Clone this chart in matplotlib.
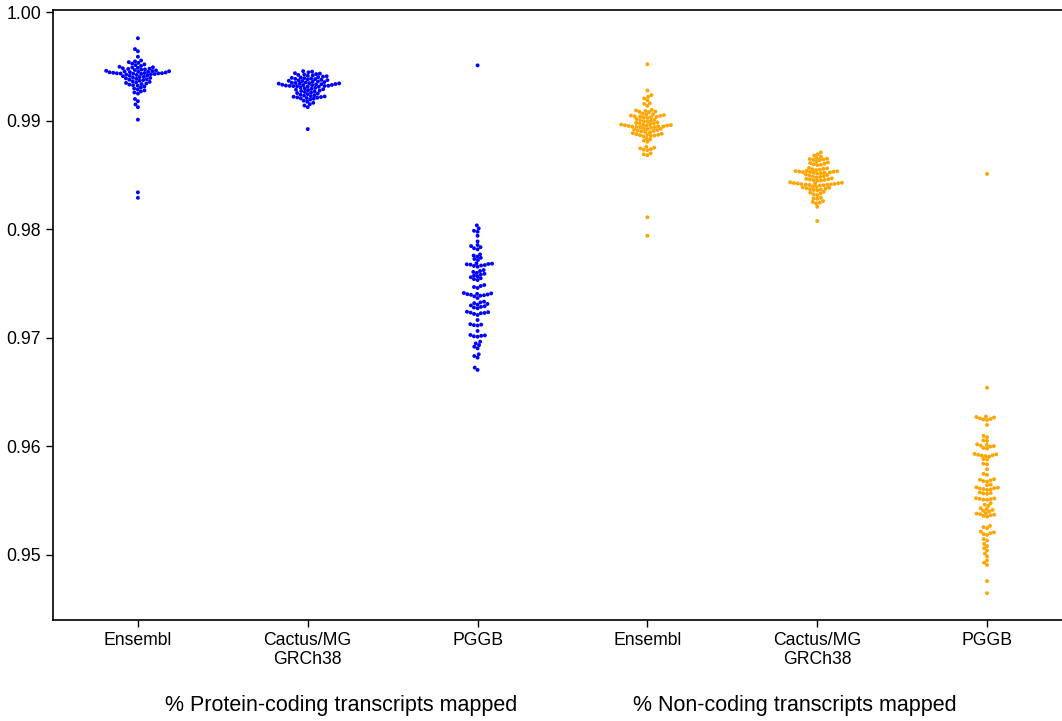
import numpy as np
import pandas as pd
import matplotlib
matplotlib.use("Agg")
from matplotlib import pyplot as plt
import seaborn as sns

plt.rcParams["font.family"] = ["Liberation Sans", "DejaVu Sans"]

categories = ["Ensembl", "Cactus/MG\nGRCh38", "PGGB",
              "Ensembl ", "Cactus/MG \nGRCh38", "PGGB "]
tick_labels = ["Ensembl", "Cactus/MG\nGRCh38", "PGGB",
               "Ensembl", "Cactus/MG\nGRCh38", "PGGB"]
group_labels = ["% Protein-coding transcripts mapped", "% Non-coding transcripts mapped"]

pc_ensembl = [0.9976, 0.9966, 0.9964, 0.9959,
              0.99555, 0.99547, 0.99540, 0.99533, 0.99526, 0.99519, 0.99512, 0.99505,
              0.99497, 0.99493, 0.99490, 0.99487, 0.99483, 0.99480, 0.99477, 0.99473,
              0.99470, 0.99467, 0.99463, 0.99460,
              0.99458, 0.99456, 0.99454, 0.99452, 0.99450, 0.99448, 0.99446, 0.99444,
              0.99442, 0.99440, 0.99438, 0.99437, 0.99436, 0.99435, 0.99434, 0.99432,
              0.99430, 0.99428, 0.99425, 0.99422,
              0.99418, 0.99414, 0.99410, 0.99406, 0.99402, 0.99398, 0.99394, 0.99390,
              0.99386, 0.99382, 0.99378, 0.99374,
              0.99368, 0.99363, 0.99358, 0.99353, 0.99348, 0.99343, 0.99338, 0.99333,
              0.99328, 0.99323,
              0.99315, 0.99306, 0.99297, 0.99288, 0.99279, 0.99270, 0.99260, 0.99250,
              0.9920, 0.9918, 0.9915, 0.99125, 0.9901, 0.9834, 0.9829]

pc_cactus = [0.99457, 0.99452, 0.99446,
             0.99438, 0.99434, 0.99430, 0.99426, 0.99422, 0.99418, 0.99414, 0.99410,
             0.99406, 0.99402,
             0.99398, 0.99395, 0.99392, 0.99389, 0.99386, 0.99383, 0.99380, 0.99377,
             0.99374, 0.99371, 0.99368, 0.99365, 0.99362, 0.99359, 0.99356, 0.99353, 0.99350,
             0.99348, 0.99346, 0.99344, 0.99342, 0.99340, 0.99338, 0.99336, 0.99334,
             0.99332, 0.99330, 0.99328, 0.99326, 0.99324, 0.99322, 0.99321, 0.99320,
             0.99319, 0.99318, 0.99316, 0.99313,
             0.99306, 0.99302, 0.99298, 0.99294, 0.99290, 0.99286, 0.99282, 0.99278,
             0.99274, 0.99270,
             0.99265, 0.99260, 0.99255, 0.99250, 0.99245, 0.99240, 0.99235, 0.99231,
             0.99227, 0.99224, 0.99221, 0.99218, 0.99215, 0.99212, 0.99209, 0.99206, 0.99203,
             0.99195, 0.99185, 0.99175, 0.99165, 0.99152, 0.99140, 0.99125,
             0.98923]

pc_pggb = [0.9951,
           0.98036, 0.98008, 0.97986, 0.97977, 0.97940, 0.97888,
           0.97855, 0.97845, 0.97835, 0.97825, 0.97815,
           0.97769, 0.97758, 0.97748, 0.97737, 0.97726, 0.97716,
           0.97686, 0.97683, 0.97680, 0.97677, 0.97674, 0.97670, 0.97666, 0.97662, 0.97655,
           0.97624, 0.97615, 0.97607, 0.97598, 0.97590, 0.97582, 0.97574, 0.97566,
           0.97558, 0.97549, 0.97541, 0.97532,
           0.97486, 0.97477, 0.97468, 0.97459,
           0.97413, 0.97409, 0.97405, 0.97402, 0.97399, 0.97396, 0.97392, 0.97388,
           0.97382, 0.97366,
           0.97333, 0.97326, 0.97319, 0.97312, 0.97305, 0.97298, 0.97291, 0.97285,
           0.97279, 0.97272,
           0.97240, 0.97236, 0.97232, 0.97229, 0.97226, 0.97220, 0.97210,
           0.97164,
           0.97125, 0.97121, 0.97117, 0.97113,
           0.97063,
           0.97026, 0.97022, 0.97018, 0.97014, 0.97010,
           0.96964, 0.96948, 0.96933, 0.96918, 0.96903,
           0.96848, 0.96832, 0.96817,
           0.96725, 0.96704]

nc_ensembl = [0.9952, 0.99279, 0.99236, 0.99222, 0.99205, 0.99190, 0.99162, 0.99155, 0.99137,
              0.99100, 0.99095, 0.99090, 0.99086, 0.99082, 0.99078,
              0.99065, 0.99060, 0.99056, 0.99052, 0.99048, 0.99045, 0.99042, 0.99039,
              0.99036, 0.99033, 0.99029, 0.99025,
              0.99015, 0.99010, 0.99005, 0.99000, 0.98995, 0.98990, 0.98985, 0.98980,
              0.98976, 0.98972,
              0.98968, 0.98965, 0.98962, 0.98960, 0.98958, 0.98956, 0.98954, 0.98952,
              0.98950, 0.98948, 0.98946, 0.98944, 0.98941, 0.98938, 0.98935,
              0.98930, 0.98926, 0.98922, 0.98918, 0.98914, 0.98910, 0.98906, 0.98902,
              0.98898, 0.98894,
              0.98885, 0.98880, 0.98876, 0.98873, 0.98870, 0.98867, 0.98864, 0.98860, 0.98856,
              0.98840, 0.98828, 0.98817, 0.98806,
              0.98760, 0.98752, 0.98745, 0.98738, 0.98733, 0.98729,
              0.98699, 0.98690, 0.98683,
              0.9811, 0.9794]

nc_cactus = [0.98708, 0.98690, 0.98679, 0.98668,
             0.98655, 0.98651, 0.98647, 0.98643, 0.98640, 0.98637,
             0.98622, 0.98616, 0.98610, 0.98604, 0.98598, 0.98594, 0.98590,
             0.98565, 0.98561, 0.98557, 0.98553, 0.98549, 0.98545,
             0.98538, 0.98536, 0.98534, 0.98532, 0.98530, 0.98528, 0.98526, 0.98524,
             0.98522, 0.98520, 0.98517, 0.98514,
             0.98506, 0.98500, 0.98495, 0.98490, 0.98486, 0.98482, 0.98478,
             0.98469, 0.98465, 0.98461, 0.98458, 0.98455, 0.98452, 0.98449, 0.98446,
             0.98432, 0.98429, 0.98426, 0.98424, 0.98422, 0.98420, 0.98418, 0.98416,
             0.98414, 0.98412, 0.98410, 0.98408, 0.98406, 0.98403,
             0.98394, 0.98390, 0.98386, 0.98382, 0.98378, 0.98374, 0.98370, 0.98366,
             0.98362, 0.98358,
             0.98345, 0.98337, 0.98330, 0.98322, 0.98315,
             0.98290, 0.98285, 0.98280, 0.98260, 0.98252, 0.98245, 0.98238,
             0.98207, 0.98076]

nc_pggb = [0.9851, 0.9654,
           0.96274, 0.96270, 0.96265, 0.96258, 0.96252, 0.96247, 0.96243,
           0.96197, 0.96096, 0.96084, 0.96055, 0.96050,
           0.96019, 0.96013, 0.96007, 0.96002, 0.95998, 0.95985, 0.95980,
           0.95930, 0.95926, 0.95922, 0.95918, 0.95914, 0.95910, 0.95905,
           0.95883, 0.95878, 0.95840, 0.95835, 0.95789, 0.95746, 0.95737,
           0.95697, 0.95692, 0.95686, 0.95680, 0.95675, 0.95647, 0.95642,
           0.95623, 0.95619, 0.95615, 0.95611, 0.95607, 0.95603, 0.95598,
           0.95574, 0.95570, 0.95566, 0.95562,
           0.95522, 0.95519, 0.95516, 0.95513, 0.95510, 0.95507,
           0.95476, 0.95462, 0.95451,
           0.95430, 0.95422, 0.95414, 0.95406, 0.95399,
           0.95384, 0.95380, 0.95375, 0.95370, 0.95365, 0.95359, 0.95353,
           0.95267, 0.95256, 0.95246,
           0.95215, 0.95207, 0.95200, 0.95192, 0.95184,
           0.95145, 0.95132, 0.95101, 0.95081, 0.95061,
           0.95040, 0.95012, 0.94985, 0.94948, 0.94928, 0.94908,
           0.94758, 0.94647]

series = [pc_ensembl, pc_cactus, pc_pggb, nc_ensembl, nc_cactus, nc_pggb]
colors = ["#0000ff"] * 3 + ["#ffa500"] * 3

df = pd.DataFrame({
    "cat": np.concatenate([[c] * len(s) for c, s in zip(categories, series)]),
    "val": np.concatenate(series),
})

fig = plt.figure(figsize=(10.62, 7.21), dpi=100)
ax = fig.add_axes([0.0499, 0.1401, 0.9595, 0.846])

# lay the swarm out with a small spacing, then draw dots a bit bigger so they overlap
sns.swarmplot(data=df, x="cat", y="val", hue="cat", order=categories,
              hue_order=categories, palette=colors, size=2.55, linewidth=0,
              legend=False, ax=ax)

ax.set_xlim(-0.5, 5.5)
ax.set_ylim(0.9440, 1.0002)
ax.set_yticks([0.95, 0.96, 0.97, 0.98, 0.99, 1.00])
ax.set_yticklabels(["0.95", "0.96", "0.97", "0.98", "0.99", "1.00"])
ax.set_xticks(range(6))
ax.set_xticklabels(tick_labels)
ax.set_xlabel("")
ax.set_ylabel("")
ax.tick_params(axis="both", labelsize=12.7, length=5, width=1, direction="out", colors="black")
for sp in ax.spines.values():
    sp.set_linewidth(1.2)
    sp.set_color("black")
ax.grid(False)

fig.canvas.draw()
for coll in ax.collections:
    if "draw" in coll.__dict__:
        del coll.draw
    coll.set_sizes([2.8 ** 2])

fig.text(341 / 1062, 1 - 705 / 721, group_labels[0], ha="center", va="center", fontsize=15.5)
fig.text(795 / 1062, 1 - 705 / 721, group_labels[1], ha="center", va="center", fontsize=15.5)

fig.savefig("out.png", dpi=100)
